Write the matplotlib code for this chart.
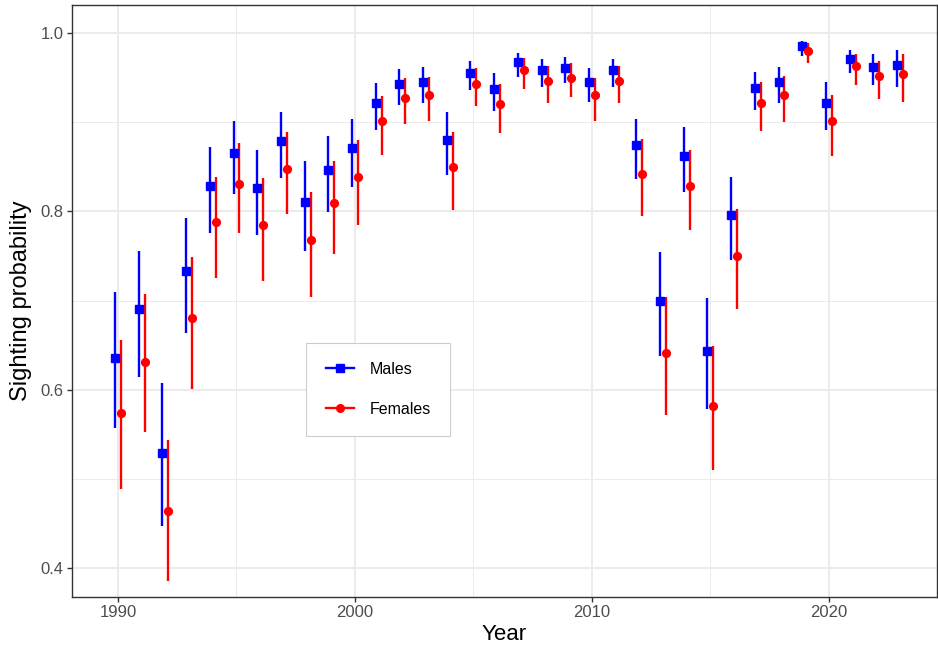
import matplotlib
matplotlib.use("Agg")
import matplotlib.pyplot as plt
from matplotlib.lines import Line2D
import numpy as np

plt.rcParams['font.family'] = ['Liberation Sans', 'DejaVu Sans']

years = list(range(1990, 2024))

male_est = [0.635, 0.690, 0.529, 0.733, 0.828, 0.865, 0.826, 0.879, 0.811, 0.846,
            0.871, 0.922, 0.943, 0.945, 0.880, 0.955, 0.937, 0.967, 0.958, 0.961,
            0.945, 0.958, 0.874, 0.699, 0.862, 0.643, 0.796, 0.938, 0.945, 0.985,
            0.922, 0.971, 0.962, 0.964]
male_hi = [0.709, 0.756, 0.608, 0.792, 0.872, 0.901, 0.869, 0.911, 0.857, 0.885,
           0.904, 0.944, 0.960, 0.962, 0.911, 0.969, 0.955, 0.978, 0.971, 0.973,
           0.961, 0.971, 0.903, 0.754, 0.895, 0.703, 0.839, 0.956, 0.962, 0.991,
           0.945, 0.981, 0.976, 0.981]
male_lo = [0.557, 0.614, 0.447, 0.664, 0.776, 0.819, 0.773, 0.837, 0.756, 0.799,
           0.827, 0.891, 0.919, 0.922, 0.841, 0.936, 0.913, 0.951, 0.939, 0.944,
           0.923, 0.940, 0.836, 0.638, 0.822, 0.578, 0.745, 0.914, 0.921, 0.974,
           0.891, 0.955, 0.942, 0.940]

female_est = [0.574, 0.631, 0.464, 0.680, 0.788, 0.831, 0.785, 0.848, 0.768, 0.809,
              0.838, 0.901, 0.927, 0.930, 0.850, 0.943, 0.920, 0.958, 0.946, 0.950,
              0.930, 0.946, 0.842, 0.641, 0.828, 0.582, 0.750, 0.922, 0.930, 0.980,
              0.901, 0.963, 0.952, 0.954]
female_hi = [0.656, 0.707, 0.544, 0.749, 0.839, 0.877, 0.837, 0.889, 0.822, 0.856,
             0.880, 0.929, 0.949, 0.951, 0.889, 0.961, 0.943, 0.972, 0.963, 0.966,
             0.950, 0.963, 0.881, 0.704, 0.869, 0.649, 0.803, 0.945, 0.952, 0.989,
             0.931, 0.976, 0.969, 0.976]
female_lo = [0.489, 0.552, 0.385, 0.601, 0.725, 0.776, 0.722, 0.797, 0.704, 0.752,
             0.785, 0.863, 0.898, 0.901, 0.801, 0.918, 0.888, 0.937, 0.921, 0.928,
             0.901, 0.922, 0.795, 0.572, 0.779, 0.510, 0.690, 0.890, 0.900, 0.966,
             0.862, 0.942, 0.926, 0.923]

x_ticks = [1990, 2000, 2010, 2020]
y_ticks = [0.4, 0.6, 0.8, 1.0]

fig = plt.figure(figsize=(9.38, 6.5), dpi=100)
ax = fig.add_axes([72/938, 1 - 597/650, 865/938, 592/650])

yrs = np.array(years, dtype=float)
dodge = 0.125

ax.vlines(yrs - dodge, male_lo, male_hi, color='#0000FF', lw=1.7, zorder=3)
ax.plot(yrs - dodge, male_est, ls='none', marker='s', ms=5.8, color='#0000FF', zorder=4)
ax.vlines(yrs + dodge, female_lo, female_hi, color='#FF0000', lw=1.7, zorder=3)
ax.plot(yrs + dodge, female_est, ls='none', marker='o', ms=5.6, color='#FF0000', zorder=4)

ax.set_xlim(1988.06, 2024.56)
ax.set_ylim(0.3675, 1.0314)
ax.set_xticks(x_ticks)
ax.set_xticklabels([str(v) for v in x_ticks])
ax.set_yticks(y_ticks)
ax.set_yticklabels([f"{v:.1f}" for v in y_ticks])
ax.set_xticks([1995, 2005, 2015], minor=True)
ax.set_yticks([0.5, 0.7, 0.9], minor=True)

ax.grid(which='major', color='#EBEBEB', lw=1.4, zorder=0)
ax.grid(which='minor', color='#EBEBEB', lw=0.7, zorder=0)
ax.set_axisbelow(True)

for s in ax.spines.values():
    s.set_color('#333333')
    s.set_linewidth(1.0)

ax.tick_params(which='major', length=3.5, width=1.0, color='#333333',
               labelsize=12, labelcolor='#4D4D4D', pad=2.5)
ax.tick_params(which='minor', length=0)

ax.set_xlabel('Year', fontsize=16, color='black', labelpad=3)
ax.set_ylabel('Sighting probability', fontsize=17, color='black', labelpad=6)

handles = [
    Line2D([0], [0], color='#0000FF', lw=1.7, marker='s', ms=5.5),
    Line2D([0], [0], color='#FF0000', lw=1.7, marker='o', ms=5.5),
]
leg = ax.legend(handles, ['Males', 'Females'], loc='center',
                bbox_to_anchor=(0.354, 0.351), fontsize=11.5, frameon=True,
                fancybox=False, edgecolor='#CCCCCC', framealpha=1,
                handlelength=1.75, handletextpad=1.0, borderpad=1.2,
                labelspacing=1.55, borderaxespad=0)
leg.get_frame().set_linewidth(0.8)

fig.savefig('out.png', dpi=100)
